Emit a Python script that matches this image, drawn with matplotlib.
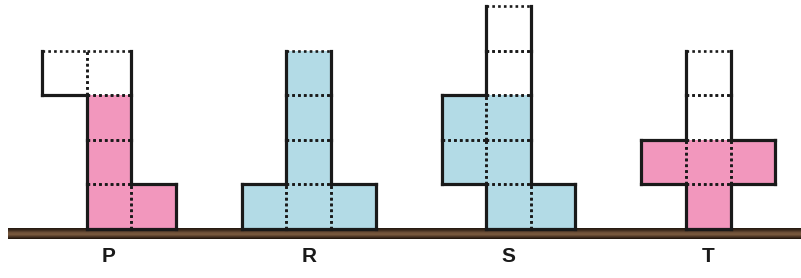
import numpy as np
import matplotlib
matplotlib.use('Agg')
import matplotlib.pyplot as plt
from matplotlib.colors import LinearSegmentedColormap

# data: cells as (column, row) from the ground up, 1 = coloured, 0 = empty
labels = ['P', 'R', 'S', 'T']
p_cells = [(1, 0), (2, 0), (1, 1), (1, 2), (0, 3), (1, 3)]
p_fill = [1, 1, 1, 1, 0, 0]
r_cells = [(0, 0), (1, 0), (2, 0), (1, 1), (1, 2), (1, 3)]
r_fill = [1, 1, 1, 1, 1, 1]
s_cells = [(1, 0), (2, 0), (0, 1), (1, 1), (0, 2), (1, 2), (1, 3), (1, 4)]
s_fill = [1, 1, 1, 1, 1, 1, 0, 0]
t_cells = [(1, 0), (0, 1), (1, 1), (2, 1), (1, 2), (1, 3)]
t_fill = [1, 1, 1, 1, 0, 0]

shapes = [p_cells, r_cells, s_cells, t_cells]
fills = [p_fill, r_fill, s_fill, t_fill]

PINK = '#f297bd'
BLUE = '#b3dbe6'
colours = [PINK, BLUE, BLUE, PINK]
offsets = [0, 4.48, 8.96, 13.44]
label_col = 1

CELL = 44.6  # px per cell
W, H = 801, 278

fig = plt.figure(figsize=(W / 100, H / 100), dpi=100)
ax = fig.add_axes([0, 0, 1, 1])
ax.set_xlim(-42 / CELL, (W - 42) / CELL)
ax.set_ylim(-49 / CELL, 229 / CELL)
ax.axis('off')

# ground
brown = LinearSegmentedColormap.from_list(
    'ground', ['#231810', '#3e2c1e', '#6e5038', '#7a5a3e', '#4a3424', '#1e140c'])
grad = np.linspace(0, 1, 64)[:, None]
ax.imshow(grad, cmap=brown, aspect='auto', origin='upper',
          extent=[-34 / CELL, (W - 42) / CELL, -10.5 / CELL, 0], zorder=0)

solid_kw = dict(color='#1a1a1a', lw=2.3, solid_capstyle='projecting', zorder=4)
dot_kw = dict(color='#1a1a1a', lw=1.9, linestyle=(0, (1, 1.2)), zorder=3)


def edges(c, r):
    return {'b': ((c, r), (c + 1, r)), 't': ((c, r + 1), (c + 1, r + 1)),
            'l': ((c, r), (c, r + 1)), 'r': ((c + 1, r), (c + 1, r + 1))}


for cells, fill, colour, x0, lab in zip(shapes, fills, colours, offsets, labels):
    cellset = set(cells)
    top = max(r for _, r in cells)
    for (c, r), f in zip(cells, fill):
        ax.fill([x0 + c, x0 + c + 1, x0 + c + 1, x0 + c],
                [r, r, r + 1, r + 1],
                color=colour if f else 'white', lw=0, zorder=1)
    for c, r in cells:
        nb = {'b': (c, r - 1), 't': (c, r + 1), 'l': (c - 1, r), 'r': (c + 1, r)}
        for side, (a, b) in edges(c, r).items():
            xs = [x0 + a[0], x0 + b[0]]
            ys = [a[1], b[1]]
            inner = nb[side] in cellset
            if inner or (side == 't' and r == top):
                ax.plot(xs, ys, **dot_kw)
            else:
                ax.plot(xs, ys, **solid_kw)
    ax.text(x0 + label_col + 0.5, -28 / CELL, lab, ha='center', va='center',
            fontsize=15, fontweight='bold', family='Liberation Sans',
            color='#1a1a1a')

fig.savefig('out.png', dpi=100)
